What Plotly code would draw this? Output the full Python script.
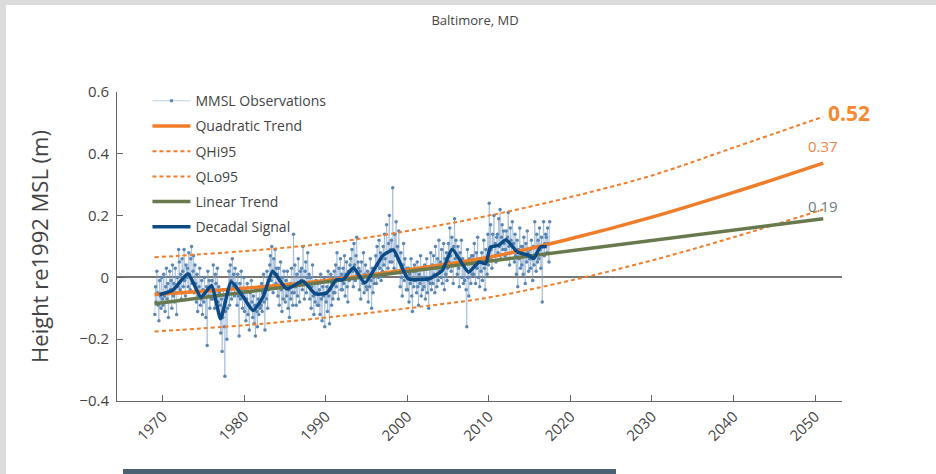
import plotly.graph_objects as go

# ---------------- data ----------------
OBS_START_YEAR = 1969
# monthly mean sea level observations, cm (Jan 1969 .. Jun 2017)
OBS_CM = [
    -12, -3, -8, 2, -5, -9, -14, -1, -6, -10, 0, -7,          # 1969
    -9, 1, -6, -11, -3, 3, -7, -2, -13, -5, 2, -4,            # 1970
    -1, -10, 4, -6, -2, -8, 3, -5, -12, 0, -3, 9,             # 1971
    5, -4, 1, -7, 6, 2, -3, 9, -1, -6, 4, 0,                  # 1972
    3, -3, 8, 1, -4, 6, 10, -2, 2, 7, -5, 4,                  # 1973
    -2, -8, 1, -11, -6, -3, 3, -9, -7, -1, -12, -4,           # 1974
    -8, 0, -5, -13, -3, -22, 2, -6, -1, -10, -4, -7,          # 1975
    -1, -7, 4, -4, -10, 1, -2, -6, 3, -8, -3, -5,             # 1976
    -9, -18, -7, -24, -13, -4, -16, -32, -11, -6, -20, -10,   # 1977
    -5, 2, -9, 4, -1, -7, 6, -3, 1, -6, 3, -2,                # 1978
    -3, -9, 1, -6, -19, -2, -7, 2, -4, -10, -5, 0,            # 1979
    -11, -4, -14, -7, -2, -12, -9, -17, -5, -10, -1, -8,      # 1980
    -13, -6, -15, -9, -19, -4, -11, -16, -7, -12, -3, -10,    # 1981
    -9, -2, -11, -5, 1, -8, -17, -3, -7, 2, -10, -4,          # 1982
    -3, 4, 7, -1, 10, 2, -5, 6, 1, 9, -2, 3,                  # 1983
    1, -6, 3, -9, -1, 5, -4, -11, 0, -7, 2, -3,               # 1984
    -8, -1, -6, 2, -10, -4, -13, -2, -7, 3, -5, -9,           # 1985
    14, -5, 4, -3, -9, 1, -6, 6, -2, -8, 2, -1,               # 1986
    3, -4, 10, -2, -7, 2, 5, -5, 0, 8, -3, 1,                 # 1987
    -7, 0, -10, -3, 4, -6, -12, -2, -8, -1, -5, -9,           # 1988
    -2, -9, -4, -12, 1, -7, -14, -3, -6, 0, -16, -5,          # 1989
    -8, -3, -11, 2, -6, -15, -4, 1, -9, -2, -7, -5,           # 1990
    2, -5, 4, -3, 8, -1, -7, 3, 0, 6, -4, 1,                  # 1991
    -4, 3, -2, 7, -6, 1, 5, -3, -8, 2, -1, 4,                 # 1992
    6, 0, 9, 2, -3, 11, 4, -1, 7, 13, 1, 5,                   # 1993
    3, -4, 2, -7, 5, 0, -2, 8, -5, 1, 4, -3,                  # 1994
    -4, 2, -8, 1, -3, 6, -1, -10, 3, -5, 0, -2,               # 1995
    1, 7, -2, 10, 4, 0, 12, 3, 8, -1, 6, 2,                   # 1996
    10, 4, 14, 6, 1, 17, 8, 3, 11, 20, 5, 9,                  # 1997
    12, 5, 29, 9, 3, 14, 7, 18, 2, 10, 6, 15,                 # 1998
    5, -3, 8, 0, -6, 4, 11, -1, 6, 2, -4, 3,                  # 1999
    -4, 3, -8, 1, -2, 6, -6, -11, 2, -3, 4, -1,               # 2000
    2, -5, 5, -3, -9, 1, -2, 7, -6, 0, -4, 3,                 # 2001
    -3, 4, -7, 0, 6, -5, -1, -10, 3, -2, 8, -4,               # 2002
    4, -2, 7, 1, -5, 10, 3, -3, 6, -1, 12, 2,                 # 2003
    5, 0, 9, -2, 4, 11, -4, 6, 1, 8, -1, 3,                   # 2004
    11, 5, 16, 7, 2, 13, 9, -2, 10, 19, 6, 12,                # 2005
    7, 1, 10, 3, -3, 8, 5, 12, 0, 6, -2, 4,                   # 2006
    -1, 5, -4, -16, 9, 0, -6, 6, 2, -2, 7, 1,                 # 2007
    7, 1, 11, 4, -2, 8, 3, 13, 0, 6, -3, 5,                   # 2008
    2, 8, -1, 6, 12, 3, -4, 9, 5, 1, 14, 4,                   # 2009
    24, 6, 17, 9, 3, 14, 10, 20, 7, 11, 5, 13,                # 2010
    14, 8, 19, 10, 22, 6, 13, 17, 9, 15, 11, 7,               # 2011
    9, 15, 6, 13, 21, 10, 4, 16, 12, 8, 18, 11,               # 2012
    11, 5, 14, 7, 1, 12, -3, 9, 6, 16, 3, 10,                 # 2013
    4, 10, 1, 13, 7, -2, 11, 5, 15, 8, 2, 6,                  # 2014
    9, 3, 12, 6, -1, 10, 4, 18, 7, 2, 14, 5,                  # 2015
    12, 6, 16, 9, 3, 13, -8, 10, 18, 7, 11, 14,               # 2016
    13, 8, 16, 11, 5, 18,                                     # 2017
]

DECADAL_YEARS = [1969.6, 1970.0, 1971.3, 1973.1, 1974.7, 1976.0, 1977.1, 1978.4,
                 1979.9, 1981.1, 1982.3, 1983.5, 1985.2, 1987.2, 1988.7, 1990.1,
                 1991.3, 1992.1, 1993.4, 1994.8, 1997.0, 1998.3, 2000.1, 2002.7,
                 2004.3, 2005.5, 2007.5, 2008.8, 2009.6, 2010.2, 2011.2, 2012.1,
                 2013.5, 2014.9, 2015.5, 2016.3, 2017.1]
DECADAL_VALUES = [-0.055, -0.053, -0.040, 0.012, -0.064, -0.026, -0.134, -0.015,
                  -0.064, -0.107, -0.064, 0.020, -0.037, -0.012, -0.053, -0.051,
                  -0.008, -0.008, 0.031, -0.018, 0.071, 0.088, -0.004, -0.004,
                  0.023, 0.091, 0.017, 0.050, 0.044, 0.098, 0.104, 0.122,
                  0.082, 0.071, 0.061, 0.098, 0.100]

TREND_YEARS = [1969, 1980, 1990, 2000, 2010, 2020, 2030, 2040, 2051]
QUAD_TREND = [-0.055, -0.035, -0.010, 0.025, 0.065, 0.125, 0.195, 0.275, 0.370]
QHI95 = [0.065, 0.085, 0.110, 0.150, 0.200, 0.260, 0.330, 0.420, 0.520]
QLO95 = [-0.175, -0.155, -0.130, -0.100, -0.065, -0.010, 0.055, 0.130, 0.220]

LINEAR_YEARS = [1969, 2051]
LINEAR_TREND = [-0.085, 0.190]

X_TICKS = [1970, 1980, 1990, 2000, 2010, 2020, 2030, 2040, 2050]
Y_TICKS = [-0.4, -0.2, 0, 0.2, 0.4, 0.6]

TITLE = "Baltimore, MD"
Y_TITLE = "Height re1992 MSL (m)"
LABEL_HI = "0.52"
LABEL_Q = "0.37"
LABEL_LIN = "0.19"

# ---------------- derived ----------------
obs_x = [OBS_START_YEAR + i / 12 + 1 / 24 for i in range(len(OBS_CM))]
obs_y = [v / 100 for v in OBS_CM]

ORANGE = "#f07d2a"
GREEN = "#687a4d"
NAVY = "#0c4a85"
TXT = "#444444"

fig = go.Figure()
fig.add_trace(go.Scatter(
    x=obs_x, y=obs_y, mode="lines+markers", name="MMSL Observations",
    line=dict(color="rgba(125,160,200,0.5)", width=1),
    marker=dict(color="#5a86b3", size=3.5), legendgroup="a"))
fig.add_trace(go.Scatter(
    x=TREND_YEARS, y=QUAD_TREND, mode="lines", name="Quadratic Trend",
    line=dict(color=ORANGE, width=3.5, shape="spline"), legendgroup="b"))
fig.add_trace(go.Scatter(
    x=TREND_YEARS, y=QHI95, mode="lines", name="QHi95",
    line=dict(color=ORANGE, width=2, dash="4px,3px", shape="spline"), legendgroup="c"))
fig.add_trace(go.Scatter(
    x=TREND_YEARS, y=QLO95, mode="lines", name="QLo95",
    line=dict(color=ORANGE, width=2, dash="4px,3px", shape="spline"), legendgroup="d"))
fig.add_trace(go.Scatter(
    x=LINEAR_YEARS, y=LINEAR_TREND, mode="lines", name="Linear Trend",
    line=dict(color=GREEN, width=3.5), legendgroup="e"))
fig.add_trace(go.Scatter(
    x=DECADAL_YEARS, y=DECADAL_VALUES, mode="lines", name="Decadal Signal",
    line=dict(color=NAVY, width=3.5, shape="spline", smoothing=0.5), legendgroup="f"))

fig.add_annotation(x=TREND_YEARS[-1], y=QHI95[-1], text="<b>" + LABEL_HI + "</b>",
                   showarrow=False, xanchor="left", yanchor="middle", xshift=3, yshift=4,
                   font=dict(size=21, color="#f58a2f"))
fig.add_annotation(x=TREND_YEARS[-1], y=QUAD_TREND[-1], text=LABEL_Q,
                   showarrow=False, xanchor="center", yanchor="bottom", yshift=5,
                   font=dict(size=15, color="#f0854a"))
fig.add_annotation(x=LINEAR_YEARS[-1], y=LINEAR_TREND[-1], text=LABEL_LIN,
                   showarrow=False, xanchor="center", yanchor="bottom", yshift=1,
                   font=dict(size=15, color="#6b7d82"))

# page decorations (frame of the screenshot)
W, H = 936, 474
L, R, T, B = 117, 94, 92, 73
pw, ph = W - L - R, H - T - B
def px(x):
    return (x - L) / pw
def py(y):
    return (H - B - y) / ph
for (x0, y0, x1, y1, col) in [(0, 0, 6, H, "#dcdcdc"), (0, 0, W, 5, "#dcdcdc"),
                              (123, 469, 616, H, "#4a6272")]:
    fig.add_shape(type="rect", xref="paper", yref="paper",
                  x0=px(x0), x1=px(x1), y0=py(y1), y1=py(y0),
                  fillcolor=col, line_width=0, layer="below")

fig.update_layout(
    width=W, height=H,
    margin=dict(l=L, r=R, t=T, b=B, autoexpand=False),
    paper_bgcolor="white", plot_bgcolor="white",
    font=dict(family="Open Sans, sans-serif", color=TXT, size=14),
    title=dict(text=TITLE, x=475 / W, xanchor="center", y=1 - 20 / H, yanchor="middle",
               yref="container", font=dict(size=13, color=TXT)),
    showlegend=True,
    legend=dict(x=0.042, y=1.022, xanchor="left", yanchor="top",
                bgcolor="rgba(0,0,0,0)", font=dict(size=14, color=TXT),
                tracegroupgap=4, itemwidth=38),
    xaxis=dict(range=[1964.4, 2053.3], tickvals=X_TICKS, tickangle=-45,
               showgrid=False, zeroline=False, showline=True, linecolor="#666",
               linewidth=1, ticks="inside", ticklen=6, tickcolor="#666",
               tickfont=dict(size=15, color=TXT)),
    yaxis=dict(range=[-0.4, 0.6], tickvals=Y_TICKS, showgrid=False,
               zeroline=True, zerolinecolor="#777", zerolinewidth=1.5,
               showline=True, linecolor="#666", linewidth=1, ticks="inside",
               ticklen=6, tickcolor="#666", tickfont=dict(size=15, color=TXT),
               ticklabelstandoff=4,
               title=dict(text=Y_TITLE, font=dict(size=22, color=TXT), standoff=24)),
)

fig.write_html("out.html", config={"displayModeBar": False},
               post_script="document.body.style.margin='0';document.body.style.overflow='hidden';")
